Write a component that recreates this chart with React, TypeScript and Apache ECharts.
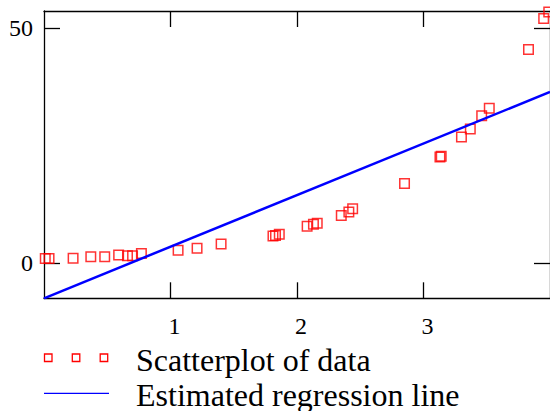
import React, { useEffect, useRef } from "react";
import * as echarts from "echarts";

const FONT = "Liberation Serif";

// Scatter data (x, y)
const xData = [0.01, 0.04, 0.23, 0.37, 0.48, 0.59, 0.66, 0.7, 0.77, 1.06, 1.21, 1.4, 1.81, 1.83, 1.86, 2.08, 2.13, 2.16, 2.35, 2.41, 2.44, 2.85, 3.13, 3.14, 3.3, 3.37, 3.46, 3.52, 3.83, 3.95, 3.99];
const yData = [1.0, 1.0, 1.06, 1.4, 1.4, 1.77, 1.6, 1.6, 2.1, 2.8, 3.2, 4.1, 5.8, 5.9, 6.2, 7.9, 8.3, 8.5, 10.2, 10.9, 11.6, 17.0, 22.6, 22.8, 26.9, 28.6, 31.4, 33.0, 45.5, 52.1, 53.5];

// Regression line end points
const lineX = [0, 4];
const lineY = [-7.45, 36.47];

// Ticks
const xTicks = [1, 2, 3];
const yTicks = [0, 50];

const legendLabels = ["Scatterplot of data", "Estimated regression line"];

export default function App() {
  const ref = useRef<HTMLDivElement>(null);
  useEffect(() => {
    if (!ref.current) return;
    const chart = echarts.init(ref.current, null, { renderer: "svg" });
    const axisLine = { show: true, onZero: false, lineStyle: { color: "#000", width: 1.3 } };
    const tickStyle = { color: "#000", width: 1.3 };
    const xCommon = { type: "value", min: 0, max: 4, splitLine: { show: false } };
    const yCommon = { type: "value", min: -7.45, max: 53.7, splitLine: { show: false } };
    chart.setOption({
      animation: false,
      backgroundColor: "#fff",
      grid: { left: 44, right: -2, top: 11, bottom: 112.7, containLabel: false },
      xAxis: [
        {
          ...xCommon,
          position: "bottom",
          axisLine,
          axisTick: { show: true, inside: true, length: 16, customValues: xTicks, lineStyle: tickStyle },
          axisLabel: {
            show: true,
            customValues: xTicks,
            fontFamily: FONT,
            fontSize: 24,
            color: "#000",
            margin: 16,
            padding: [0, 0, 0, 8],
          },
        },
        {
          ...xCommon,
          position: "top",
          axisLine,
          axisTick: { show: true, inside: true, length: 16, customValues: xTicks, lineStyle: tickStyle },
          axisLabel: { show: false },
        },
      ],
      yAxis: [
        {
          ...yCommon,
          position: "left",
          axisLine,
          axisTick: { show: true, inside: true, length: 16, customValues: yTicks, lineStyle: tickStyle },
          axisLabel: {
            show: true,
            customValues: yTicks,
            fontFamily: FONT,
            fontSize: 24,
            color: "#000",
            margin: 11,
            padding: [5, 0, 0, 0],
          },
        },
        {
          ...yCommon,
          position: "right",
          axisLine,
          axisTick: { show: true, inside: true, length: 16, customValues: yTicks, lineStyle: tickStyle },
          axisLabel: { show: false },
        },
      ],
      series: [
        {
          type: "line",
          xAxisIndex: 0,
          yAxisIndex: 0,
          data: lineX.map((x, i) => [x, lineY[i]]),
          showSymbol: false,
          symbol: "none",
          lineStyle: { color: "#0000ff", width: 2.5 },
          silent: true,
        },
        {
          type: "scatter",
          xAxisIndex: 0,
          yAxisIndex: 0,
          data: xData.map((x, i) => [x, yData[i]]),
          symbol: "rect",
          symbolSize: 9.5,
          itemStyle: { color: "rgba(0,0,0,0)", borderColor: "#ff0000", borderWidth: 1.5 },
          silent: true,
        },
      ],
      graphic: [
        { type: "rect", shape: { x: 44.5, y: 354, width: 7.5, height: 7.5 }, style: { fill: "none", stroke: "#ff0000", lineWidth: 1.3 } },
        { type: "rect", shape: { x: 72.3, y: 354, width: 7.5, height: 7.5 }, style: { fill: "none", stroke: "#ff0000", lineWidth: 1.3 } },
        { type: "rect", shape: { x: 100.2, y: 354, width: 7.5, height: 7.5 }, style: { fill: "none", stroke: "#ff0000", lineWidth: 1.3 } },
        { type: "line", shape: { x1: 44, y1: 393.3, x2: 109, y2: 393.3 }, style: { stroke: "#0000ff", lineWidth: 1.3 } },
        {
          type: "text",
          x: 136,
          y: 360,
          style: { text: legendLabels[0], fontFamily: FONT, fontSize: 32, fill: "#000", verticalAlign: "middle", align: "left" },
        },
        {
          type: "text",
          x: 136,
          y: 395,
          style: { text: legendLabels[1], fontFamily: FONT, fontSize: 32, fill: "#000", verticalAlign: "middle", align: "left" },
        },
      ],
    });
    return () => chart.dispose();
  }, []);
  return <div ref={ref} style={{ position: "fixed", left: 0, top: 0, width: 550, height: 411 }} />;
}
